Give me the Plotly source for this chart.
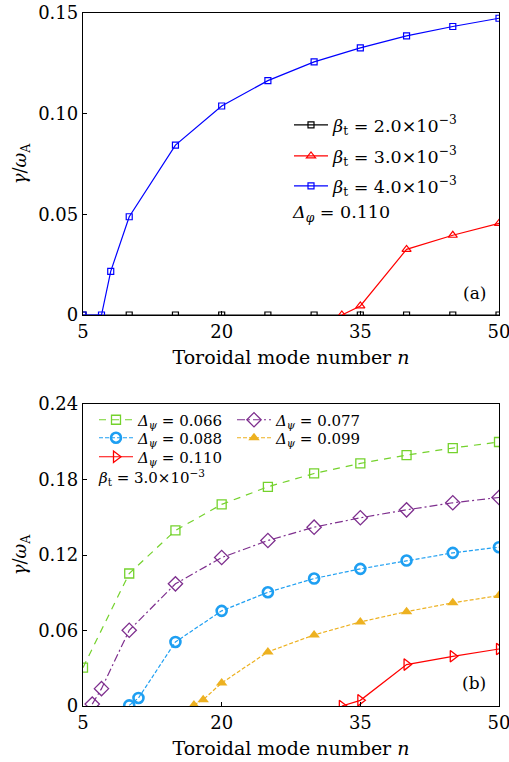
import plotly.graph_objects as go

# ---- panel (a): growth rate vs n for three beta_t values, Delta_phi = 0.110
n_a_black = [5, 10, 15, 20, 25, 30, 35, 40, 45, 50]
g_a_black = [0, 0, 0, 0, 0, 0, 0, 0, 0, 0]
n_a_red = [33, 35, 40, 45, 50]
g_a_red = [0.0, 0.0045, 0.0326, 0.0396, 0.0455]
n_a_blue = [5, 7, 8, 10, 15, 20, 25, 30, 35, 40, 45, 50]
g_a_blue = [0.0, 0.0, 0.0217, 0.0488, 0.0844, 0.1038, 0.1164, 0.1257, 0.1327, 0.1386, 0.1433, 0.1474]

# ---- panel (b): growth rate vs n for five Delta_psi values, beta_t = 3.0e-3
n_b_066 = [5, 10, 15, 20, 25, 30, 35, 40, 45, 50]
g_b_066 = [0.0305, 0.1053, 0.1395, 0.1602, 0.1742, 0.1848, 0.1928, 0.1994, 0.2050, 0.2098]
n_b_077 = [6, 7, 10, 15, 20, 25, 30, 35, 40, 45, 50]
g_b_077 = [0.0015, 0.0138, 0.0602, 0.0971, 0.1180, 0.1315, 0.1421, 0.1496, 0.1559, 0.1615, 0.1657]
n_b_088 = [10, 11, 15, 20, 25, 30, 35, 40, 45, 50]
g_b_088 = [0.0005, 0.0064, 0.0509, 0.0756, 0.0904, 0.1013, 0.1090, 0.1156, 0.1217, 0.1262]
n_b_099 = [17, 18, 20, 25, 30, 35, 40, 45, 50]
g_b_099 = [0.0008, 0.0050, 0.0183, 0.0430, 0.0565, 0.0668, 0.0750, 0.0820, 0.0878]
n_b_110 = [33, 35, 40, 45, 50]
g_b_110 = [0.0, 0.0045, 0.0329, 0.0395, 0.0453]

x_ticks = [5, 20, 35, 50]
y_ticks_a = [0, 0.05, 0.10, 0.15]
y_tick_text_a = ["0", "0.05", "0.10", "0.15"]
y_ticks_b = [0, 0.06, 0.12, 0.18, 0.24]
y_tick_text_b = ["0", "0.06", "0.12", "0.18", "0.24"]

FONT = "DejaVu Serif"
BETA = "<i>β</i><sub>t</sub>"
DPSI = "<i>Δ</i><sub><i>ψ</i></sub>"

GREEN = "#74d22c"
BLUE_B = "#1e9ff2"
PURPLE = "#7e2f8e"
ORANGE = "#edb120"

fig = go.Figure()


def add(x, y, ax, name, leg, color, dash, symbol, size, mlw):
    fig.add_trace(go.Scatter(
        x=x, y=y, mode="lines+markers", xaxis="x" + ax, yaxis="y" + ax,
        name=name, legend=leg,
        line=dict(color=color, width=1.2, dash=dash),
        marker=dict(symbol=symbol, size=size, color=color, line=dict(width=mlw, color=color))))


# panel (a)
add(n_a_black, g_a_black, "", BETA + " = 2.0×10<sup>−3</sup>", "legend", "black", "solid", "square-open", 6, 1.2)
add(n_a_red, g_a_red, "", BETA + " = 3.0×10<sup>−3</sup>", "legend2", "#ff0000", "solid", "triangle-up-open", 8, 1.2)
add(n_a_blue, g_a_blue, "", BETA + " = 4.0×10<sup>−3</sup>", "legend3", "#0000ff", "solid", "square-open", 6, 1.2)

# panel (b)
add(n_b_066, g_b_066, "2", DPSI + " = 0.066", "legend4", GREEN, "7px,6px", "square-open", 9, 1.3)
add(n_b_088, g_b_088, "2", DPSI + " = 0.088", "legend5", BLUE_B, "4px,2px", "circle-open", 10, 2.6)
add(n_b_110, g_b_110, "2", DPSI + " = 0.110", "legend6", "#ff0000", "solid", "triangle-right-open", 10, 1.3)
add(n_b_077, g_b_077, "2", DPSI + " = 0.077", "legend7", PURPLE, "8px,3px,2px,3px", "diamond-open", 11, 1.3)
add(n_b_099, g_b_099, "2", DPSI + " = 0.099", "legend8", ORANGE, "4px,2px", "triangle-up", 10, 0)

axis_common = dict(
    showline=True, linecolor="black", linewidth=1.3, mirror=True,
    ticks="inside", ticklen=4, tickcolor="black", showgrid=False, zeroline=False,
    automargin=False, ticklabeloverflow="allow",
    tickfont=dict(family=FONT, size=18, color="black"),
)

H = 762
TOP, BOT = 13, 56
PLOT_H = H - TOP - BOT
L, R = 83, 10
PLOT_W = 509 - L - R


def py(p):
    # pixel row -> paper y
    return (H - BOT - p) / PLOT_H


def px(p):
    # pixel column -> paper x
    return (p - L) / PLOT_W


def legend_at(x_pix, y_pix, size):
    return dict(x=px(x_pix), y=py(y_pix), xanchor="left", yanchor="middle",
                bgcolor="rgba(0,0,0,0)", font=dict(family=FONT, size=size),
                itemwidth=34, tracegroupgap=0)


xtitle = dict(text="Toroidal mode number <i>n</i>", font=dict(family=FONT, size=19), standoff=9)
ytitle = dict(text="<i>γ</i>/<i>ω</i><sub>A</sub>", font=dict(family=FONT, size=18), standoff=6)

fig.update_layout(
    width=509, height=H,
    margin=dict(l=L, r=R, t=TOP, b=BOT),
    paper_bgcolor="white", plot_bgcolor="white",
    font=dict(family=FONT, color="black"),
    showlegend=True,
    xaxis=dict(axis_common, domain=[0, 1], anchor="y", range=[5, 50], tickvals=x_ticks, title=xtitle),
    yaxis=dict(axis_common, domain=[py(315), 1.0], anchor="x", range=[0, 0.15],
               tickvals=y_ticks_a, ticktext=y_tick_text_a, title=ytitle),
    xaxis2=dict(axis_common, domain=[0, 1], anchor="y2", range=[5, 50], tickvals=x_ticks, title=xtitle),
    yaxis2=dict(axis_common, domain=[0.0, py(404)], anchor="x2", range=[0, 0.24],
                tickvals=y_ticks_b, ticktext=y_tick_text_b, title=ytitle),
    legend=legend_at(289, 125, 17.5),
    legend2=legend_at(289, 156, 17.5),
    legend3=legend_at(289, 186, 17.5),
    legend4=legend_at(94, 420, 15),
    legend5=legend_at(94, 438, 15),
    legend6=legend_at(94, 457, 15),
    legend7=legend_at(232, 420, 15),
    legend8=legend_at(232, 438, 15),
    annotations=[
        dict(text="<i>Δ</i><sub><i>φ</i></sub> = 0.110", xref="paper", yref="paper",
             x=px(290), y=py(214), xanchor="left", yanchor="middle", showarrow=False,
             font=dict(family=FONT, size=17.5)),
        dict(text="(a)", xref="paper", yref="paper", x=px(488), y=py(293),
             xanchor="right", yanchor="middle", showarrow=False, font=dict(family=FONT, size=17)),
        dict(text=BETA + " = 3.0×10<sup>−3</sup>", xref="paper", yref="paper",
             x=px(96), y=py(477), xanchor="left", yanchor="middle", showarrow=False,
             font=dict(family=FONT, size=15)),
        dict(text="(b)", xref="paper", yref="paper", x=px(488), y=py(683),
             xanchor="right", yanchor="middle", showarrow=False, font=dict(family=FONT, size=17)),
    ],
)

fig.write_html("out.html")
